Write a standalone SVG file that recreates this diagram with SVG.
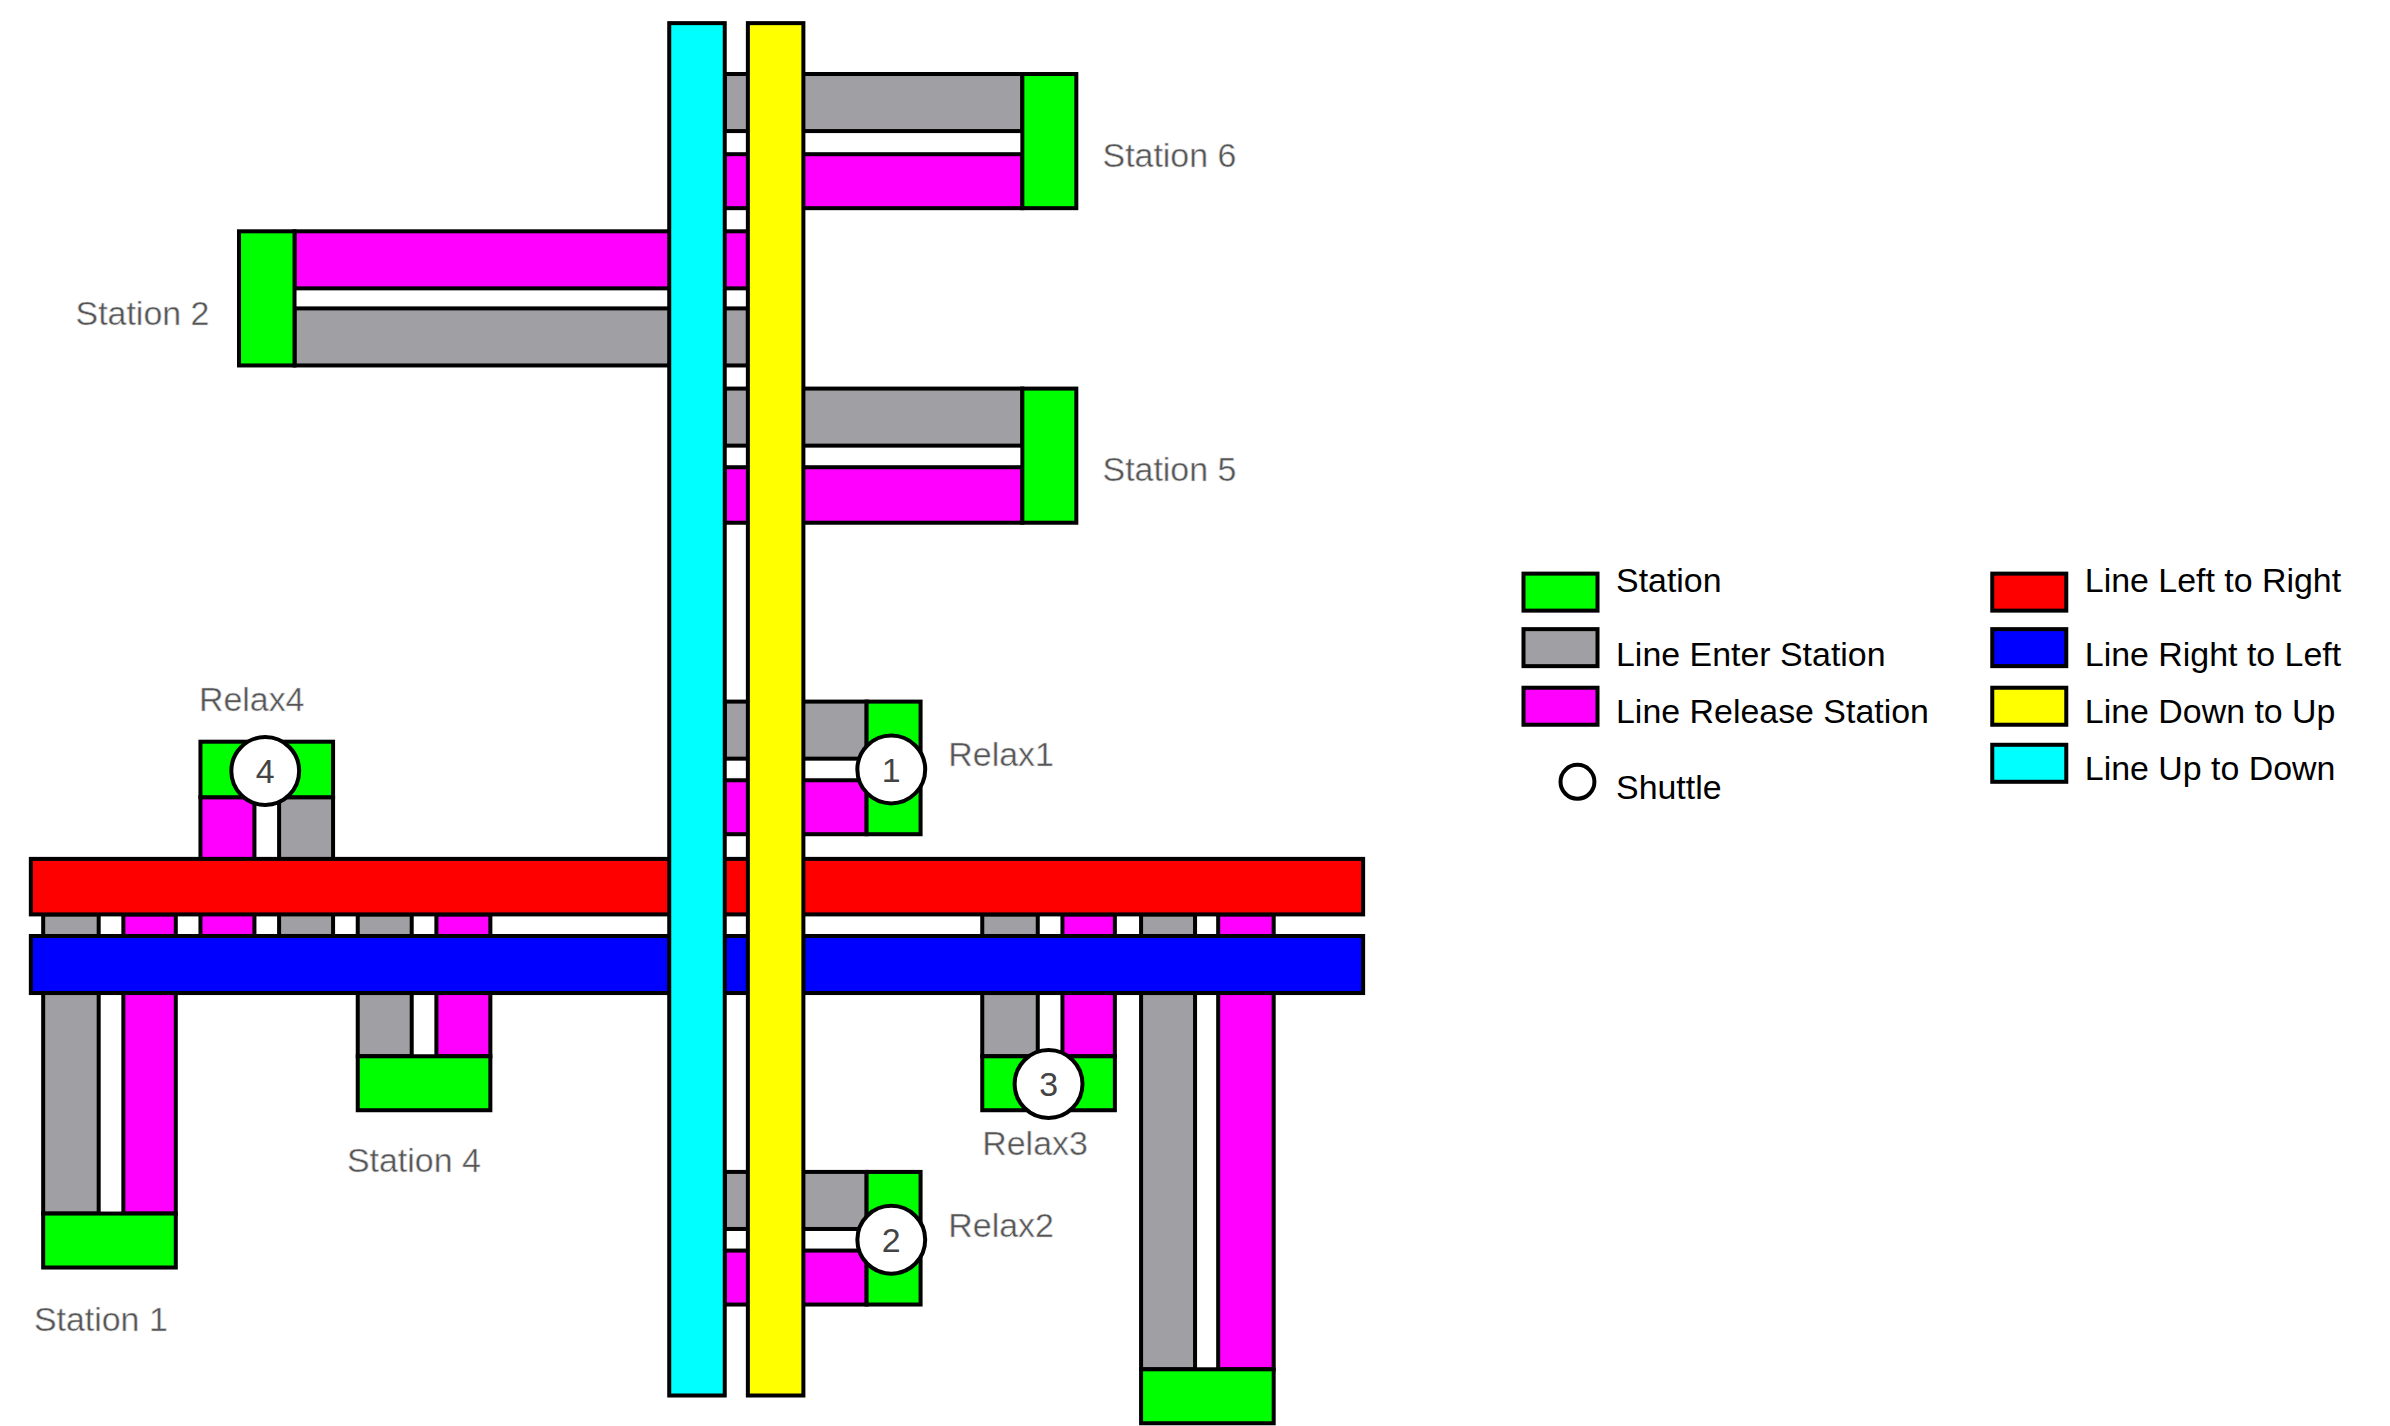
<svg xmlns="http://www.w3.org/2000/svg" width="2390" height="1426" viewBox="0 0 2390 1426">
<style>
rect,circle{stroke:#000;stroke-width:2.6}
.g{fill:#00ff00}.e{fill:#a0a0a4}.m{fill:#ff00ff}.r{fill:#ff0000}.b{fill:#0000ff}.y{fill:#ffff00}.c{fill:#00ffff}.w{fill:#fff}
.lbl{font-family:"Liberation Sans",Arial,sans-serif;font-size:22px;fill:#555;stroke:#ddd;stroke-width:0.4}
.leg{font-family:"Liberation Sans",Arial,sans-serif;font-size:22px;fill:#000}
.num{font-family:"Liberation Sans",Arial,sans-serif;font-size:22px;fill:#444;text-anchor:middle}
</style>
<rect x="0" y="0" width="2390" height="1426" fill="#fff" style="stroke:none"/>
<g transform="scale(1.542)">
<g id="station6"><rect class="e" x="470" y="48" width="193" height="37"/><rect class="m" x="470" y="100" width="193" height="35"/><rect class="g" x="663" y="48" width="35" height="87"/><text class="lbl" x="715" y="108">Station 6</text></g>
<g id="station2"><rect class="m" x="191" y="150" width="294" height="37"/><rect class="e" x="191" y="200" width="294" height="37"/><rect class="g" x="155" y="150" width="36" height="87"/><text class="lbl" x="49" y="211">Station 2</text></g>
<g id="station5"><rect class="e" x="470" y="252" width="193" height="37"/><rect class="m" x="470" y="303" width="193" height="36"/><rect class="g" x="663" y="252" width="35" height="87"/><text class="lbl" x="715" y="312">Station 5</text></g>
<g id="relax1"><rect class="e" x="470" y="455" width="92" height="37"/><rect class="m" x="470" y="506" width="92" height="35"/><rect class="g" x="562" y="455" width="35" height="86"/><circle class="w" cx="578" cy="499" r="22"/><text class="num" x="578" y="507">1</text><text class="lbl" x="615" y="497">Relax1</text></g>
<g id="relax2"><rect class="e" x="470" y="760" width="92" height="37"/><rect class="m" x="470" y="811" width="92" height="35"/><rect class="g" x="562" y="760" width="35" height="86"/><circle class="w" cx="578" cy="804" r="22"/><text class="num" x="578" y="812">2</text><text class="lbl" x="615" y="802">Relax2</text></g>
<g id="station1"><rect class="e" x="28" y="593" width="36" height="194"/><rect class="m" x="80" y="593" width="34" height="194"/><rect class="g" x="28" y="787" width="86" height="35"/><text class="lbl" x="22" y="863">Station 1</text></g>
<g id="relax4"><rect class="m" x="130" y="517" width="35" height="90"/><rect class="e" x="181" y="517" width="35" height="90"/><rect class="g" x="130" y="481" width="86" height="36"/><circle class="w" cx="172" cy="500" r="22"/><text class="num" x="172" y="508">4</text><text class="lbl" x="129" y="461">Relax4</text></g>
<g id="station4"><rect class="e" x="232" y="593" width="35" height="92"/><rect class="m" x="283" y="593" width="35" height="92"/><rect class="g" x="232" y="685" width="86" height="35"/><text class="lbl" x="225" y="760">Station 4</text></g>
<g id="relax3"><rect class="e" x="637" y="593" width="36" height="92"/><rect class="m" x="689" y="593" width="34" height="92"/><rect class="g" x="637" y="685" width="86" height="35"/><circle class="w" cx="680" cy="703" r="22"/><text class="num" x="680" y="711">3</text><text class="lbl" x="637" y="749">Relax3</text></g>
<g id="station3"><rect class="e" x="740" y="593" width="35" height="295"/><rect class="m" x="790" y="593" width="36" height="295"/><rect class="g" x="740" y="888" width="86" height="35"/></g>
<g id="connectors">
<rect class="r" x="20" y="557" width="864" height="36"/>
<rect class="b" x="20" y="607" width="864" height="37"/>
<rect class="c" x="434" y="15" width="36" height="890"/>
<rect class="y" x="485" y="15" width="36" height="890"/>
</g>
<g id="legend">
<rect class="g" x="988" y="372" width="48" height="24"/><text class="leg" x="1048" y="384">Station</text>
<rect class="e" x="988" y="408" width="48" height="24"/><text class="leg" x="1048" y="432">Line Enter Station</text>
<rect class="m" x="988" y="446" width="48" height="24"/><text class="leg" x="1048" y="469">Line Release Station</text>
<circle cx="1023" cy="507" r="11" fill="none"/><text class="leg" x="1048" y="518">Shuttle</text>
<rect class="r" x="1292" y="372" width="48" height="24"/><text class="leg" x="1352" y="384">Line Left to Right</text>
<rect class="b" x="1292" y="408" width="48" height="24"/><text class="leg" x="1352" y="432">Line Right to Left</text>
<rect class="y" x="1292" y="446" width="48" height="24"/><text class="leg" x="1352" y="469">Line Down to Up</text>
<rect class="c" x="1292" y="483" width="48" height="24"/><text class="leg" x="1352" y="506">Line Up to Down</text>
</g>
</g>
</svg>
